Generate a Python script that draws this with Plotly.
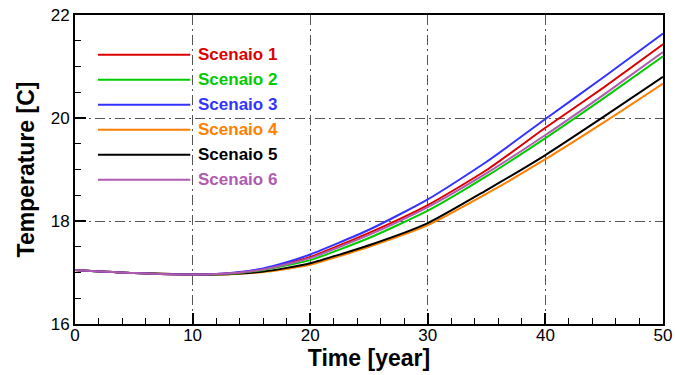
import plotly.graph_objects as go

years = [0, 5, 10, 12, 14, 16, 18, 20, 25, 30, 35, 40, 45, 50]
scenario_names = ["Scenaio 1", "Scenaio 2", "Scenaio 3", "Scenaio 4", "Scenaio 5", "Scenaio 6"]
s1 = [17.05, 16.99, 16.96, 16.97, 17.00, 17.07, 17.17, 17.30, 17.77, 18.31, 18.99, 19.81, 20.60, 21.43]
s2 = [17.05, 16.99, 16.96, 16.965, 16.99, 17.05, 17.14, 17.24, 17.67, 18.20, 18.87, 19.61, 20.39, 21.20]
s3 = [17.05, 16.99, 16.96, 16.97, 17.01, 17.08, 17.20, 17.35, 17.83, 18.42, 19.15, 19.98, 20.80, 21.64]
s4 = [17.05, 16.99, 16.96, 16.96, 16.975, 17.01, 17.07, 17.15, 17.50, 17.92, 18.53, 19.20, 19.92, 20.67]
s5 = [17.05, 16.99, 16.96, 16.96, 16.98, 17.02, 17.09, 17.18, 17.53, 17.96, 18.60, 19.28, 20.03, 20.80]
s6 = [17.05, 16.99, 16.96, 16.97, 17.00, 17.06, 17.16, 17.28, 17.73, 18.27, 18.93, 19.67, 20.46, 21.28]
series = [s1, s2, s3, s4, s5, s6]
colors = ["#dd0000", "#00cc00", "#3333ff", "#ff8000", "#000000", "#b05ab0"]
draw_order = [3, 4, 1, 0, 2, 5]

FONT = "Liberation Sans, Arial, sans-serif"

fig = go.Figure()
for i in draw_order:
    fig.add_trace(go.Scatter(x=years, y=series[i], mode="lines", name=scenario_names[i],
                             line=dict(color=colors[i], width=2, shape="spline", smoothing=0.6),
                             showlegend=False))

# manual legend (paper coordinates)
leg_x0, leg_x1, leg_tx = 0.039, 0.196, 0.205
leg_y_top, leg_dy = 0.871, 0.0809
shapes = []
annotations = []
for k in range(6):
    yy = leg_y_top - k * leg_dy
    shapes.append(dict(type="line", xref="paper", yref="paper", x0=leg_x0, x1=leg_x1, y0=yy, y1=yy,
                       line=dict(color=colors[k], width=2)))
    annotations.append(dict(xref="paper", yref="paper", x=leg_tx, y=yy, text=scenario_names[k],
                            showarrow=False, xanchor="left", yanchor="middle",
                            font=dict(family=FONT, size=17, color=colors[k], weight="bold")))

axis_common = dict(showline=True, linecolor="black", linewidth=2, mirror=True,
                   ticks="inside", tickcolor="black", tickwidth=2, ticklen=11,
                   showgrid=True, gridcolor="#555555", gridwidth=1, griddash="10px,4px,2px,4px",
                   zeroline=False, automargin=False,
                   tickfont=dict(family=FONT, size=17, color="black"),
                   title_font=dict(family=FONT, size=23, color="black", weight="bold"))

fig.update_xaxes(range=[0, 50], dtick=10, tick0=0, ticklabelstandoff=-5,
                 minor=dict(dtick=2, ticks="inside", ticklen=6, tickcolor="black", tickwidth=1, showgrid=False),
                 title_text="Time [year]", title_standoff=3, **axis_common)
fig.update_yaxes(range=[16, 22], dtick=2, tick0=16,
                 minor=dict(dtick=0.5, ticks="inside", ticklen=6, tickcolor="black", tickwidth=1, showgrid=False),
                 title_text="Temperature [C]", title_standoff=10, **axis_common)

fig.update_layout(width=675, height=375, margin=dict(l=75, r=12, t=15, b=51),
                  plot_bgcolor="white", paper_bgcolor="white",
                  shapes=shapes, annotations=annotations)

fig.write_html("out.html", config={"displayModeBar": False},
               post_script="document.body.style.margin='0';")
